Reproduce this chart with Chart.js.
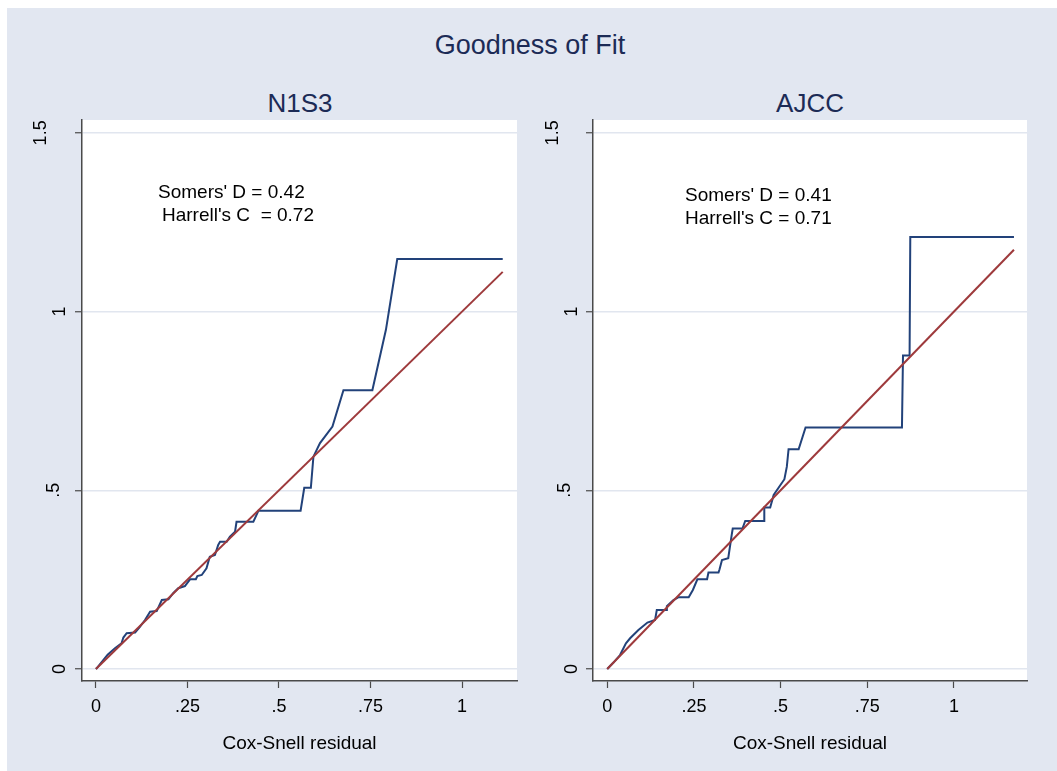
<!DOCTYPE html>
<html><head><meta charset="utf-8">
<script src="https://cdn.jsdelivr.net/npm/chart.js@4/dist/chart.umd.min.js"></script>
<style>
html,body{margin:0;padding:0;background:#fff;width:1057px;height:771px;overflow:hidden;font-family:"Liberation Sans",Arial,sans-serif;}
#bg{position:absolute;left:7px;top:8px;width:1050px;height:763px;background:#e2e7f1;}
.txt{position:absolute;white-space:nowrap;transform:translate(-50%,-50%);color:#1c2b56;line-height:1;}
.cv{position:absolute;top:0;height:771px;}
</style></head>
<body>
<div id="bg"></div>
<div class="txt" id="title" style="left:530px;top:45px;font-size:27px;">Goodness of Fit</div>
<div class="txt" id="sub1" style="left:300px;top:103px;font-size:26px;">N1S3</div>
<div class="txt" id="sub2" style="left:810px;top:103px;font-size:26px;">AJCC</div>
<div class="cv" style="left:0;width:528px;"><canvas id="c1"></canvas></div>
<div class="cv" style="left:528px;width:529px;"><canvas id="c2"></canvas></div>
<script>
// ---- data ----
const xTicks = [0, 0.25, 0.5, 0.75, 1];
const xTickLabels = ["0", ".25", ".5", ".75", "1"];
const yTicks = [0, 0.5, 1, 1.5];
const yTickLabels = ["0", ".5", "1", "1.5"];

const n1s3X = [0, 0.002, 0.032, 0.052, 0.070, 0.075, 0.084, 0.107, 0.120, 0.134, 0.148, 0.166, 0.180, 0.198, 0.211, 0.225, 0.243, 0.257, 0.273, 0.277, 0.289, 0.302, 0.311, 0.325, 0.334, 0.339, 0.357, 0.366, 0.380, 0.384, 0.430, 0.444, 0.559, 0.569, 0.587, 0.594, 0.612, 0.646, 0.676, 0.755, 0.792, 0.823, 1.111];
const n1s3Y = [0, 0.002, 0.040, 0.058, 0.072, 0.088, 0.100, 0.102, 0.118, 0.137, 0.160, 0.162, 0.193, 0.195, 0.212, 0.226, 0.232, 0.251, 0.251, 0.260, 0.263, 0.282, 0.314, 0.319, 0.347, 0.356, 0.356, 0.370, 0.384, 0.412, 0.412, 0.443, 0.443, 0.507, 0.507, 0.594, 0.632, 0.678, 0.780, 0.780, 0.949, 1.147, 1.147];
const n1s3Fit = [0, 1.111];

const ajccX = [0, 0.018, 0.037, 0.054, 0.066, 0.090, 0.116, 0.138, 0.143, 0.170, 0.172, 0.191, 0.206, 0.235, 0.247, 0.260, 0.288, 0.292, 0.321, 0.324, 0.331, 0.349, 0.359, 0.362, 0.390, 0.398, 0.453, 0.453, 0.470, 0.480, 0.511, 0.518, 0.523, 0.552, 0.572, 0.850, 0.853, 0.872, 0.874, 1.173];
const ajccY = [0, 0.018, 0.039, 0.072, 0.086, 0.109, 0.130, 0.137, 0.165, 0.165, 0.176, 0.193, 0.201, 0.201, 0.221, 0.251, 0.251, 0.270, 0.270, 0.279, 0.305, 0.310, 0.375, 0.393, 0.393, 0.414, 0.414, 0.452, 0.452, 0.487, 0.531, 0.566, 0.615, 0.615, 0.676, 0.676, 0.877, 0.877, 1.209, 1.209];
const ajccFit = [0, 1.173];

const n1s3Notes = ["Somers' D = 0.42", "Harrell's C  = 0.72"];
const ajccNotes = ["Somers' D = 0.41", "Harrell's C = 0.71"];
const xTitle = "Cox-Snell residual";

// ---- rendering ----
const FONT = '"Liberation Sans", Arial, sans-serif';
const BLUE = '#22427a', RED = '#9e3a3c', AXIS = '#4a4a4a', GRID = '#e1e6ef';
const TICK_SIZE = 18;

function pts(xs, ys){ return xs.map((x,i)=>({x:x, y:ys[i]})); }

function makeChart(id, xs, ys, fit, notes, cfg){
  const plotBg = {
    id:'plotBg',
    beforeDraw(chart){
      const a = chart.chartArea, c = chart.ctx;
      c.save(); c.fillStyle = '#ffffff';
      c.fillRect(a.left, a.top, a.right - a.left, a.bottom - a.top);
      c.restore();
    }
  };
  const yLab = {
    id:'yLab',
    afterDraw(chart){
      const s = chart.scales.y, c = chart.ctx;
      c.save();
      c.font = TICK_SIZE + 'px ' + FONT; c.fillStyle = '#000';
      const w0 = c.measureText('0').width;
      yTicks.forEach((v,i)=>{
        const lab = yTickLabels[i];
        const w = c.measureText(lab).width;
        const bx = s.right - cfg.yGap - 1.25*(w - w0);
        const py = s.getPixelForValue(v);
        c.save(); c.translate(bx, py); c.rotate(-Math.PI/2);
        c.textAlign = 'center'; c.textBaseline = 'alphabetic';
        c.fillText(lab, 0, 0); c.restore();
      });
      c.restore();
    }
  };
  const notesPlugin = {
    id:'notes',
    afterDraw(chart){
      const c = chart.ctx, a = chart.chartArea;
      c.save(); c.font = '19px ' + FONT; c.fillStyle = '#000';
      c.textAlign = 'left'; c.textBaseline = 'alphabetic';
      notes.forEach((t,i)=>{ c.fillText(t, a.left + cfg.noteDx[i], cfg.noteY[i]); });
      c.restore();
    }
  };
  return new Chart(document.getElementById(id), {
    type:'scatter',
    data:{ datasets:[
      { data: pts(fit, fit), showLine:true, borderColor:RED, borderWidth:2, pointRadius:0, fill:false, tension:0 },
      { data: pts(xs, ys), showLine:true, borderColor:BLUE, borderWidth:2, pointRadius:0, fill:false, tension:0 }
    ]},
    options:{
      responsive:true, maintainAspectRatio:false, animation:false, devicePixelRatio:1,
      layout:{ padding:{ left:0, top:120, right:cfg.padRight, bottom:0 } },
      plugins:{ legend:{display:false}, tooltip:{enabled:false}, title:{display:false} },
      scales:{
        x:{
          type:'linear', min:cfg.xMin, max:cfg.xMax,
          afterBuildTicks(s){ s.ticks = xTicks.map(v=>({value:v})); },
          afterFit(s){ s.height = 90; },
          ticks:{ callback:(v,i)=>xTickLabels[i], font:{family:FONT,size:TICK_SIZE}, color:'#000', padding:8, maxRotation:0, autoSkip:false },
          grid:{ drawOnChartArea:false, drawTicks:true, tickLength:7, tickColor:AXIS, tickWidth:1.2 },
          border:{ display:true, color:AXIS, width:1.5 },
          title:{ display:true, text:xTitle, font:{family:FONT,size:19}, color:'#000', padding:{top:0,bottom:16} }
        },
        y:{
          type:'linear', min:-0.0336, max:1.536,
          afterBuildTicks(s){ s.ticks = yTicks.map(v=>({value:v})); },
          afterFit(s){ s.width = cfg.yWidth; },
          ticks:{ display:false },
          grid:{ drawOnChartArea:true, color:GRID, lineWidth:1.5, drawTicks:true, tickLength:7, tickColor:AXIS, tickWidth:1.2 },
          border:{ display:true, color:AXIS, width:1.5 }
        }
      }
    },
    plugins:[plotBg, yLab, notesPlugin]
  });
}

makeChart('c1', n1s3X, n1s3Y, n1s3Fit, n1s3Notes, {
  xMin:-0.038, xMax:1.150, padRight:11, yWidth:82, yGap:17,
  noteDx:[76, 80], noteY:[198, 221]
});
makeChart('c2', ajccX, ajccY, ajccFit, ajccNotes, {
  xMin:-0.041, xMax:1.2106, padRight:30, yWidth:65, yGap:16.5,
  noteDx:[92, 92], noteY:[201, 224]
});
</script>
</body></html>
